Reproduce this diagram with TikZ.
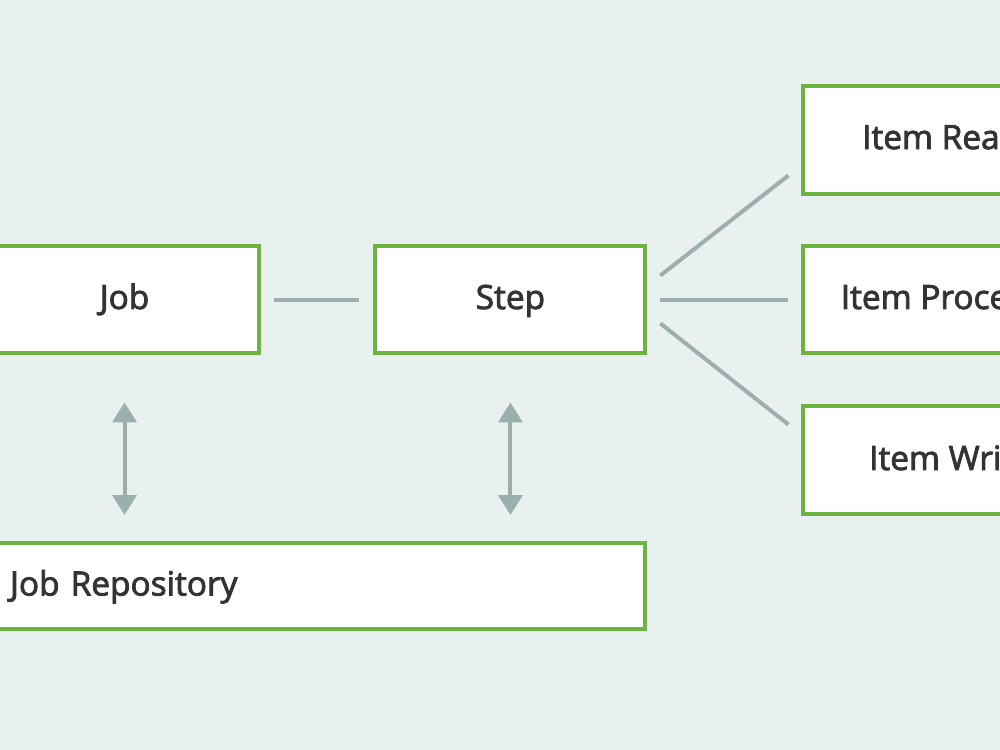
\documentclass[tikz,border=0pt]{standalone}
\usepackage{fontspec}
\setmainfont{Open Sans}[UprightFeatures={FakeBold=2.5}]
\usepackage{tikz}
\usetikzlibrary{calc,arrows.meta,positioning}
\definecolor{bgcol}{HTML}{E8F1F0}
\definecolor{springgreen}{HTML}{6CB33F}
\definecolor{linkgray}{HTML}{9BB0AD}
\definecolor{txtcol}{HTML}{333333}
\tikzset{
  box/.style={draw=springgreen, line width=0.08cm, fill=white, text=txtcol,
    minimum width=5.4cm, minimum height=2.16cm, inner sep=0pt,
    font=\fontsize{19}{23}\selectfont, text height=1.08em, text depth=0pt},
  itembox/.style={box, minimum width=6.16cm},
  repobox/.style={box, minimum width=13.14cm, minimum height=1.72cm,
    text width=12.26cm, align=left},
  link/.style={draw=linkgray, line width=0.08cm},
  arr/.style={link, {Triangle[width=0.48cm,length=0.4cm]}-{Triangle[width=0.48cm,length=0.4cm]}}
}
\begin{document}
\begin{tikzpicture}[x=0.02cm, y=-0.02cm]
  \clip (0,0) rectangle (1000,750);
  \fill[bgcol] (0,0) rectangle (1000,750);
  % boxes
  \node[box] (job) at (124.5,299.5) {Job};
  \node[box, right=2.24cm of job] (step) {Step};
  \node[itembox, right=3.08cm of step] (proc) {Item Processor};
  \node[itembox, above=0.96cm of proc] (reader) {Item Reader};
  \node[itembox, below=0.98cm of proc] (writer) {Item Writer};
  \node[repobox] (repo) at (316.5,586) {Job Repository};
  % connectors
  \draw[link, shorten <=0.26cm, shorten >=0.28cm] (job) -- (step);
  \draw[link, shorten <=0.26cm, shorten >=0.26cm] (step) -- (proc);
  \draw[link] ($(step.east)+(13,-24)$) -- ($(reader.south west)+(-13,-20)$);
  \draw[link] ($(step.east)+(13,24)$) -- ($(writer.north west)+(-13,20)$);
  \draw[arr, shorten <=0.94cm, shorten >=0.52cm] (job.south) -- (job.south |- repo.north);
  \draw[arr, shorten <=0.94cm, shorten >=0.52cm] (step.south) -- (step.south |- repo.north);
\end{tikzpicture}
\end{document}
